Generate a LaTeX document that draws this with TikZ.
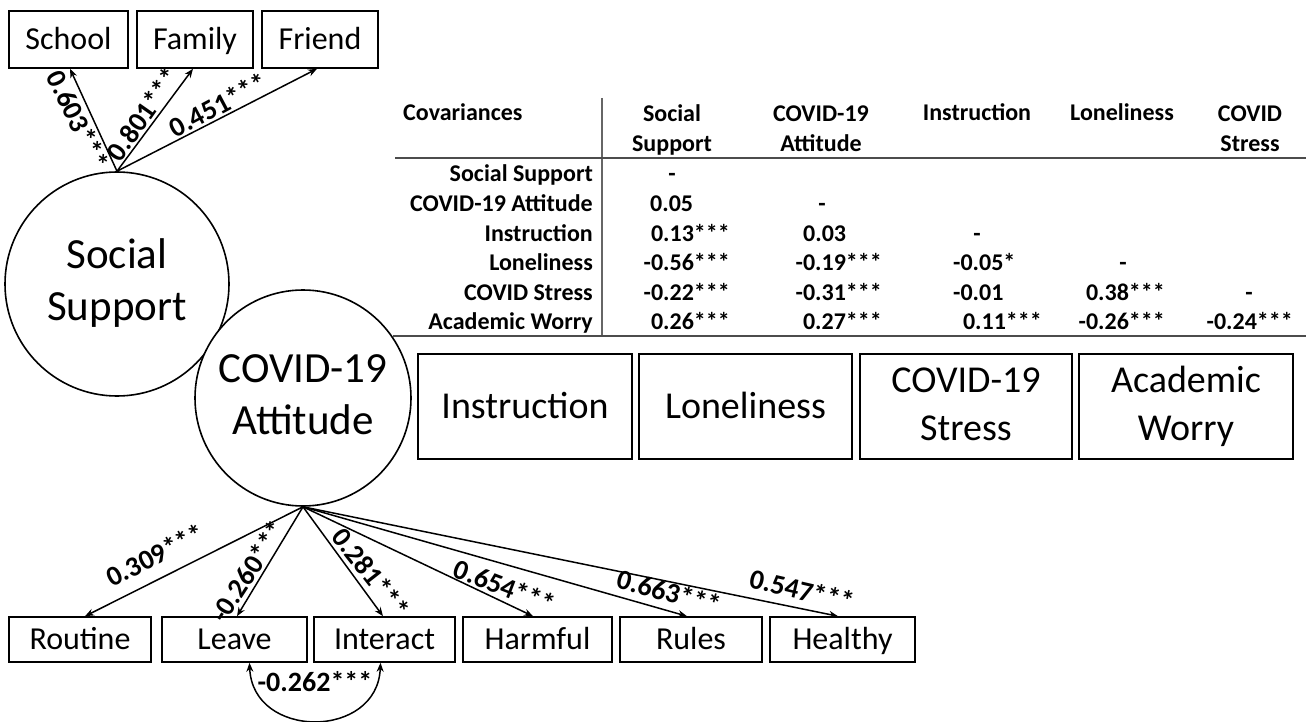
\documentclass[tikz,border=0pt]{standalone}
\usepackage{fontspec}
\setmainfont{Carlito}
\usetikzlibrary{arrows.meta}
\begin{document}
\begin{tikzpicture}[x=1pt,y=-1pt,
  every node/.style={inner sep=0pt},
  ind/.style={draw, line width=1.6pt, font=\fontsize{32}{38}\selectfont,
              text height=26pt, text depth=6pt, minimum height=57pt},
  bot/.style={draw, line width=1.6pt, font=\fontsize{32}{38}\selectfont,
              text height=26pt, text depth=6pt, minimum height=45pt},
  obs/.style={draw, line width=1.6pt, font=\fontsize{38}{48}\selectfont, align=center,
              minimum width=213pt, minimum height=105pt},
  lat/.style={draw, circle, line width=1.6pt, fill=white, align=center,
              font=\fontsize{43}{52}\selectfont},
  load/.style={-{Stealth[length=9pt,width=7pt]}, line width=1.5pt},
  covar/.style={{Stealth[length=9pt,width=7pt]}-{Stealth[length=9pt,width=7pt]}, line width=1.5pt},
  coef/.style={font=\bfseries\fontsize{28}{32}\selectfont},
  tb/.style={font=\bfseries\fontsize{24}{30}\selectfont},
  tbh/.style={tb, align=center},
  rule/.style={draw=black!70, line width=1.8pt},
  vrule/.style={draw=black!60, line width=1.1pt},
]
\useasboundingbox (0,0) rectangle (1306,722);

% ---------- latent factors ----------
\node[lat, minimum size=224pt] (ss) at (117,284) {Social\strut\\Support\strut};
\node[lat, minimum size=216pt] (ca) at (303,398) {COVID-19\strut\\Attitude\strut};

% ---------- social support indicators ----------
\node[ind, minimum width=119pt] (school) at (68.5,39.5) {School};
\node[ind, minimum width=116pt] (family) at (195,39.5) {Family};
\node[ind, minimum width=116pt] (friend) at (320,39.5) {Friend};

\draw[load] (ss.north) -- ([xshift=1.5pt]school.south);
\draw[load] (ss.north) -- ([xshift=-2pt]family.south);
\draw[load] (ss.north) -- ([xshift=-3pt]friend.south);

\node[coef, rotate=-64] (l603) at (78,120) {0.603***};
\node[coef, rotate=55] (l801) at (143,114) {0.801***};
\node[coef, rotate=28] (l451) at (218,105) {0.451***};

% ---------- attitude indicators ----------
\node[bot, minimum width=142pt] (routine) at (80,639.5) {Routine};
\node[bot, minimum width=145pt] (leave) at (234.5,639.5) {Leave};
\node[bot, minimum width=141pt] (interact) at (384.5,639.5) {Interact};
\node[bot, minimum width=149pt] (harmful) at (537.5,639.5) {Harmful};
\node[bot, minimum width=142pt] (rules) at (691,639.5) {Rules};
\node[bot, minimum width=145pt] (healthy) at (842.5,639.5) {Healthy};

\draw[load] (ca.south) -- ([xshift=5pt]routine.north);
\draw[load] (ca.south) -- ([xshift=2.5pt]leave.north);
\draw[load] (ca.south) -- ([xshift=-1.5pt]interact.north);
\draw[load] (ca.south) -- ([xshift=-4.5pt]harmful.north);
\draw[load] (ca.south) -- ([xshift=-4pt]rules.north);
\draw[load] (ca.south) -- ([xshift=-4.5pt]healthy.north);

\node[coef, rotate=27] (l309) at (155,555) {0.309***};
\node[coef, rotate=57] (l260) at (248,571) {-0.260***};
\node[coef, rotate=-52] (l281) at (371,573) {0.281***};
\node[coef, rotate=-21] (l654) at (505,586) {0.654***};
\node[coef, rotate=-15] (l663) at (669,592) {0.663***};
\node[coef, rotate=-13] (l547) at (802,590) {0.547***};

% residual covariance between Leave and Interact
\draw[covar] ([xshift=15pt]leave.south)
  .. controls ([xshift=18pt,yshift=-77pt]leave.south)
  and ([xshift=-7pt,yshift=-77pt]interact.south) .. ([xshift=-4pt]interact.south);
\node[coef] (l262) at (315,682) {-0.262***};

% ---------- observed outcome variables ----------
\node[obs, minimum width=214pt] (instr) at (525,406.5) {\raisebox{-2pt}{Instruction}\strut};
\node[obs] (lone) at (745.5,406.5) {\raisebox{-2pt}{Loneliness}\strut};
\node[obs, minimum width=212pt] (cstress) at (966,406.5) {COVID-19\strut\\Stress\strut};
\node[obs, minimum width=214pt] (aworry) at (1186,406.5) {Academic\strut\\Worry\strut};

% ---------- covariance table ----------
\draw[vrule] (602,98) -- (602,337);
\draw[rule] (395,158) -- (1306,158);
\draw[rule] (393,336) -- (1306,336);

\node[tb, anchor=base west] (tcov) at (403,121) {Covariances};
\node[tbh] (tc1) at (672,130) {Social\\Support};
\node[tbh] (tc2) at (821,128.5) {COVID-19\\Attitude};
\node[tb, anchor=base] (tc3) at (977,121) {Instruction};
\node[tb, anchor=base] (tc4) at (1122,121) {Loneliness};
\node[tbh] (tc5) at (1250,128.5) {COVID\\Stress};

\node[tb, anchor=base east] (tr1) at (593,182) {Social Support};
\node[tb, anchor=base east] (tr2) at (593,211.5) {COVID-19 Attitude};
\node[tb, anchor=base east] (tr3) at (593,241) {Instruction};
\node[tb, anchor=base east] (tr4) at (593,270.5) {Loneliness};
\node[tb, anchor=base east] (tr5) at (593,300) {COVID Stress};
\node[tb, anchor=base east] (tr6) at (593,329.6) {Academic Worry};

% row 1
\node[tb, anchor=base] (v11) at (672,182) {-};
% row 2
\node[tb, anchor=base west] (v21) at (650,211.5) {0.05};
\node[tb, anchor=base] (v22) at (822,211.5) {-};
% row 3
\node[tb, anchor=base east] (v31) at (730,241) {0.13***};
\node[tb, anchor=base west] (v32) at (803,241) {0.03};
\node[tb, anchor=base] (v33) at (977,241) {-};
% row 4
\node[tb, anchor=base east] (v41) at (730,270.5) {-0.56***};
\node[tb, anchor=base east] (v42) at (882,270.5) {-0.19***};
\node[tb, anchor=base west] (v43) at (953,270.5) {-0.05*};
\node[tb, anchor=base] (v44) at (1123,270.5) {-};
% row 5
\node[tb, anchor=base east] (v51) at (730,300) {-0.22***};
\node[tb, anchor=base east] (v52) at (882,300) {-0.31***};
\node[tb, anchor=base west] (v53) at (953,300) {-0.01};
\node[tb, anchor=base east] (v54) at (1165,300) {0.38***};
\node[tb, anchor=base] (v55) at (1249,300) {-};
% row 6
\node[tb, anchor=base east] (v61) at (730,329.6) {0.26***};
\node[tb, anchor=base east] (v62) at (882,329.6) {0.27***};
\node[tb, anchor=base east] (v63) at (1042,329.6) {0.11***};
\node[tb, anchor=base east] (v64) at (1165,329.6) {-0.26***};
\node[tb, anchor=base east] (v65) at (1293,329.6) {-0.24***};
\end{tikzpicture}
\end{document}
